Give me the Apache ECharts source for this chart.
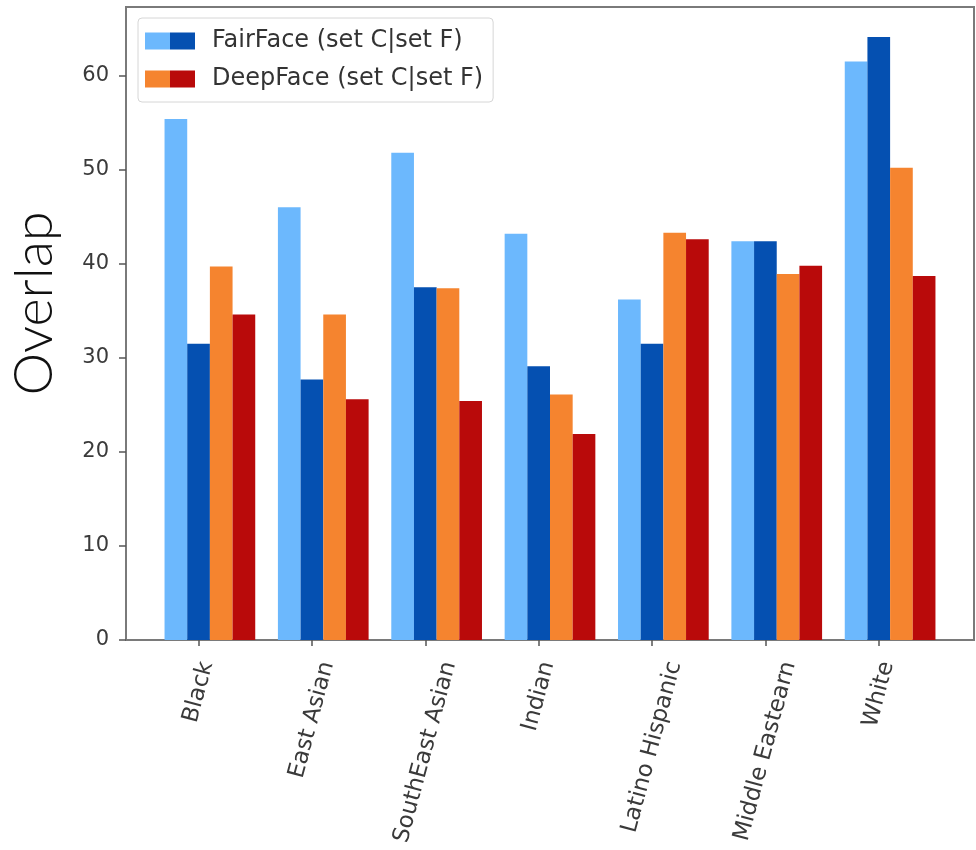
<!DOCTYPE html>
<html>
<head>
<meta charset="utf-8">
<script src="https://cdn.jsdelivr.net/npm/echarts@6/dist/echarts.min.js"></script>
<style>html,body{margin:0;padding:0;background:#fff}#chart{width:976px;height:850px}</style>
</head>
<body>
<div id="chart"></div>
<script>
const categories = ['Black', 'East Asian', 'SouthEast Asian', 'Indian', 'Latino Hispanic', 'Middle Eastearn', 'White'];
const fairFaceSetC = [55.4, 46.0, 51.8, 43.2, 36.2, 42.4, 61.5];
const fairFaceSetF = [31.5, 27.7, 37.5, 29.1, 31.5, 42.4, 64.1];
const deepFaceSetC = [39.7, 34.6, 37.4, 26.1, 43.3, 38.9, 50.2];
const deepFaceSetF = [34.6, 25.6, 25.4, 21.9, 42.6, 39.8, 38.7];
const yTicks = [0, 10, 20, 30, 40, 50, 60];
const fairName = 'FairFace (set C|set F)';
const deepName = 'DeepFace (set C|set F)';

const colors = { fairC: '#6cb8fd', fairF: '#0550b1', deepC: '#f5842f', deepF: '#b90a0a' };
const labelFont = '"DejaVu Sans", sans-serif';
const xLabelSize = 23;

const gridLeft = 126, gridRight = 2, gridTop = 7, gridBottom = 210;
const xMin = -0.74, xMax = 6.74;
const pxPerUnit = (976 - gridLeft - gridRight) / (xMax - xMin);
const tickOffset = -0.1; // tick at second bar of each group

// measure label lengths to centre rotated labels like the reference
const ctx = document.createElement('canvas').getContext('2d');
ctx.font = xLabelSize + 'px "DejaVu Sans"';
const tickValues = categories.map((c, i) => i + tickOffset);
const labelValues = categories.map((c, i) => i + tickOffset + 0.1295 * ctx.measureText(c).width / pxPerUnit);

function split(c1, c2) {
  return { type: 'linear', x: 0, y: 0, x2: 1, y2: 0, colorStops: [
    { offset: 0, color: c1 }, { offset: 0.5, color: c1 }, { offset: 0.5, color: c2 }, { offset: 1, color: c2 }] };
}
const toPts = arr => arr.map((v, i) => [i, v]);

const chart = echarts.init(document.getElementById('chart'));
chart.setOption({
  animation: false,
  backgroundColor: '#ffffff',
  grid: { left: gridLeft, right: gridRight, top: gridTop, bottom: gridBottom, outerBoundsMode: 'none', containLabel: false,
          show: true, borderColor: '#7a7a7a', borderWidth: 2 },
  legend: {
    orient: 'vertical', left: 138, top: 18,
    padding: [11, 10, 11, 7],
    borderColor: '#d6d6d6', borderWidth: 1, borderRadius: 4,
    backgroundColor: '#ffffff',
    itemWidth: 50, itemHeight: 17, itemGap: 14, icon: 'rect',
    textStyle: { fontFamily: labelFont, fontSize: 24, color: '#333', padding: [0, 0, 0, 12] },
    data: [
      { name: fairName, itemStyle: { color: split(colors.fairC, colors.fairF) } },
      { name: deepName, itemStyle: { color: split(colors.deepC, colors.deepF) } }
    ]
  },
  xAxis: {
    type: 'value', min: xMin, max: xMax,
    splitLine: { show: false },
    axisLine: { show: true, onZero: false, lineStyle: { color: '#7a7a7a', width: 2 } },
    axisTick: { show: true, length: 6, customValues: tickValues, lineStyle: { color: '#555', width: 1.5 } },
    axisLabel: {
      customValues: labelValues, rotate: 75, margin: 22,
      fontFamily: labelFont, fontSize: xLabelSize, color: '#3a3a3a',
      formatter: v => categories[Math.round(v)]
    }
  },
  yAxis: {
    type: 'value', min: 0, max: 67.3,
    splitLine: { show: false },
    axisLine: { show: true, onZero: false, lineStyle: { color: '#7a7a7a', width: 2 } },
    axisTick: { show: true, length: 7, customValues: yTicks, lineStyle: { color: '#555', width: 1.5 } },
    axisLabel: { customValues: yTicks, margin: 17, fontFamily: labelFont, fontSize: 21, color: '#3a3a3a' },
    name: 'Overlap', nameLocation: 'middle', nameRotate: 90, nameGap: 64,
    nameTextStyle: { fontFamily: 'Lato, "Open Sans", sans-serif', fontWeight: 300, fontSize: 54, color: '#111', padding: [0, 0, 0, 40] }
  },
  series: [
    { name: fairName, type: 'bar', data: toPts(fairFaceSetC), barWidth: '20%', barGap: '0%', itemStyle: { color: colors.fairC } },
    { name: fairName, type: 'bar', data: toPts(fairFaceSetF), barWidth: '20%', barGap: '0%', itemStyle: { color: colors.fairF } },
    { name: deepName, type: 'bar', data: toPts(deepFaceSetC), barWidth: '20%', barGap: '0%', itemStyle: { color: colors.deepC } },
    { name: deepName, type: 'bar', data: toPts(deepFaceSetF), barWidth: '20%', barGap: '0%', itemStyle: { color: colors.deepF } }
  ]
});
</script>
</body>
</html>
